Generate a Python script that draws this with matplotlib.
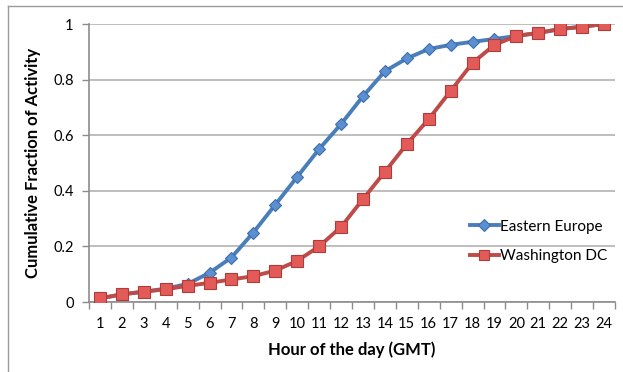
import matplotlib
matplotlib.use("Agg")
import matplotlib.pyplot as plt
from matplotlib.lines import Line2D

plt.rcParams["font.family"] = ["Lato", "DejaVu Sans"]

# hourly cumulative activity
hours = list(range(1, 25))
eastern_europe = [0.013, 0.027, 0.037, 0.048, 0.065, 0.105, 0.16, 0.25, 0.35, 0.45,
                  0.55, 0.64, 0.74, 0.83, 0.876, 0.91, 0.925, 0.936, 0.946, 0.957,
                  0.968, 0.982, 0.99, 1.0]
washington_dc = [0.013, 0.028, 0.037, 0.046, 0.058, 0.069, 0.081, 0.093, 0.113, 0.148,
                 0.20, 0.27, 0.37, 0.468, 0.568, 0.658, 0.759, 0.86, 0.925, 0.957,
                 0.968, 0.982, 0.99, 1.0]
yticks = [0, 0.2, 0.4, 0.6, 0.8, 1]
ytick_labels = ["0", "0.2", "0.4", "0.6", "0.8", "1"]

BLUE_LINE, BLUE_FACE = "#4a7ebb", "#5b8fd0"
RED_LINE, RED_FACE = "#be4b48", "#e35b58"

fig = plt.figure(figsize=(6.23, 3.72), dpi=100)
ax = fig.add_axes([89 / 623, 70 / 372, 526 / 623, 278 / 372])

# outer chart frame (top and left edges visible)
fig.add_artist(Line2D([8 / 623, 1], [1 - 6 / 372] * 2, color="#9a9a9a", lw=1.0))
fig.add_artist(Line2D([8 / 623] * 2, [0, 1 - 6 / 372], color="#9a9a9a", lw=1.0))

ax.plot(hours, eastern_europe, "-D", color=BLUE_LINE, lw=2.8, ms=6.5,
        mfc=BLUE_FACE, mec="#3d6fae", mew=0.8, label="Eastern Europe", zorder=3)
ax.plot(hours, washington_dc, "-s", color=RED_LINE, lw=2.8, ms=8.5,
        mfc=RED_FACE, mec="#b03c3a", mew=0.8, label="Washington DC", zorder=4)

ax.set_xlim(0.5, 24.5)
ax.set_ylim(0, 1)
ax.set_xticks(hours)
ax.set_xticks([h + 0.5 for h in range(0, 25)], minor=True)
ax.tick_params(axis="x", which="major", length=0, pad=11, labelsize=10.5)
ax.tick_params(axis="x", which="minor", length=5, color="#8c8c8c", width=1)
ax.set_yticks(yticks)
ax.set_yticklabels(ytick_labels)
ax.tick_params(axis="y", length=5, color="#8c8c8c", width=1, labelsize=10.5, pad=6)

ax.grid(axis="y", color="#b3b3b3", lw=1.2)
ax.set_axisbelow(True)
for side in ("top", "right"):
    ax.spines[side].set_visible(False)
for side in ("left", "bottom"):
    ax.spines[side].set_color("#8c8c8c")
    ax.spines[side].set_linewidth(1.2)

ax.set_xlabel("Hour of the day (GMT)", fontsize=12, fontweight="bold", labelpad=7)
ax.set_ylabel("Cumulative Fraction of Activity", fontsize=12, fontweight="bold",
              labelpad=9)

ax.legend(loc="upper left", bbox_to_anchor=(462 / 623, 1 - 212 / 372),
          bbox_transform=fig.transFigure, frameon=False, fontsize=11,
          handlelength=1.9, handletextpad=0.1, labelspacing=1.0, borderpad=0,
          markerscale=0.9)

fig.savefig("out.png", dpi=100)
